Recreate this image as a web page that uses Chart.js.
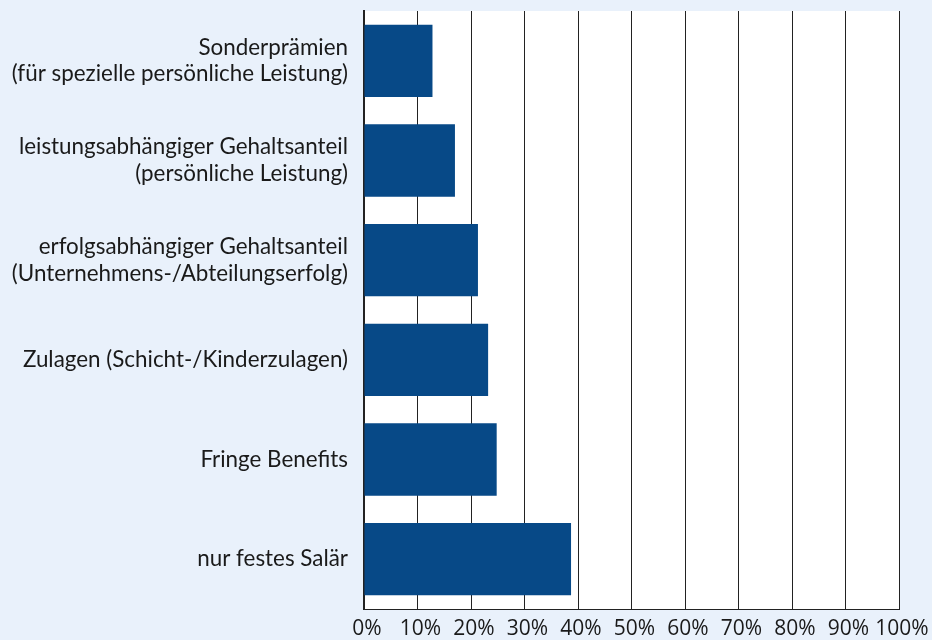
<!DOCTYPE html>
<html><head><meta charset="utf-8">
<script src="https://cdn.jsdelivr.net/npm/chart.js@4/dist/chart.umd.min.js"></script>
<style>
html,body{margin:0;padding:0;background:#e9f1fb;}
#wrap{width:932px;height:640px;position:relative;}
</style></head>
<body><div id="wrap"><canvas id="c" width="932" height="640"></canvas></div>
<script>
const categories = [
  ["Sonderprämien", "(für spezielle persönliche Leistung)"],
  ["leistungsabhängiger Gehaltsanteil", "(persönliche Leistung)"],
  ["erfolgsabhängiger Gehaltsanteil", "(Unternehmens-/Abteilungserfolg)"],
  "Zulagen (Schicht-/Kinderzulagen)",
  "Fringe Benefits",
  "nur festes Salär"
];
const shares = [12.8, 17.0, 21.3, 23.2, 24.8, 38.7];
const xTicks = [0, 10, 20, 30, 40, 50, 60, 70, 80, 90, 100];

const LABEL_FONT = "Lato";
const TICK_FONT = "'Open Sans'";
const plotBg = {
  id: 'plotBg',
  beforeDraw(chart) {
    const {ctx, chartArea: a} = chart;
    ctx.save();
    ctx.fillStyle = '#ffffff';
    ctx.fillRect(a.left, a.top, a.right - a.left, a.bottom - a.top);
    ctx.restore();
  }
};

new Chart(document.getElementById('c'), {
  type: 'bar',
  data: {
    labels: categories,
    datasets: [{
      data: shares,
      backgroundColor: '#074987',
      borderWidth: 0,
      barPercentage: 0.725,
      categoryPercentage: 1.0
    }]
  },
  options: {
    indexAxis: 'y',
    responsive: false,
    animation: false,
    layout: { padding: { top: 11, right: 33, bottom: 0, left: 0 } },
    plugins: { legend: { display: false }, tooltip: { enabled: false } },
    scales: {
      x: {
        min: 0, max: 100,
        afterBuildTicks(scale) { scale.ticks = xTicks.map(v => ({ value: v })); },
        afterFit(scale) { scale.height = 31; scale.paddingLeft = 0; scale.paddingRight = 0; },
        grid: { color: '#222', lineWidth: 1, drawTicks: false },
        border: { display: true, color: '#222', width: 1 },
        ticks: {
          padding: 7,
          labelOffset: 3,
          color: '#1a1a1a',
          font: { family: TICK_FONT, size: 21 },
          maxRotation: 0, autoSkip: false,
          callback: v => v + '%'
        }
      },
      y: {
        afterFit(scale) { scale.width = 364; scale.paddingTop = 0; scale.paddingBottom = 0; },
        grid: { display: false, drawTicks: false },
        border: { display: true, color: '#222', width: 2 },
        ticks: {
          padding: 16,
          color: '#1a1a1a',
          font: { family: LABEL_FONT, size: 22.4, lineHeight: 1.2 }
        }
      }
    }
  },
  plugins: [plotBg]
});
</script>
</body></html>
